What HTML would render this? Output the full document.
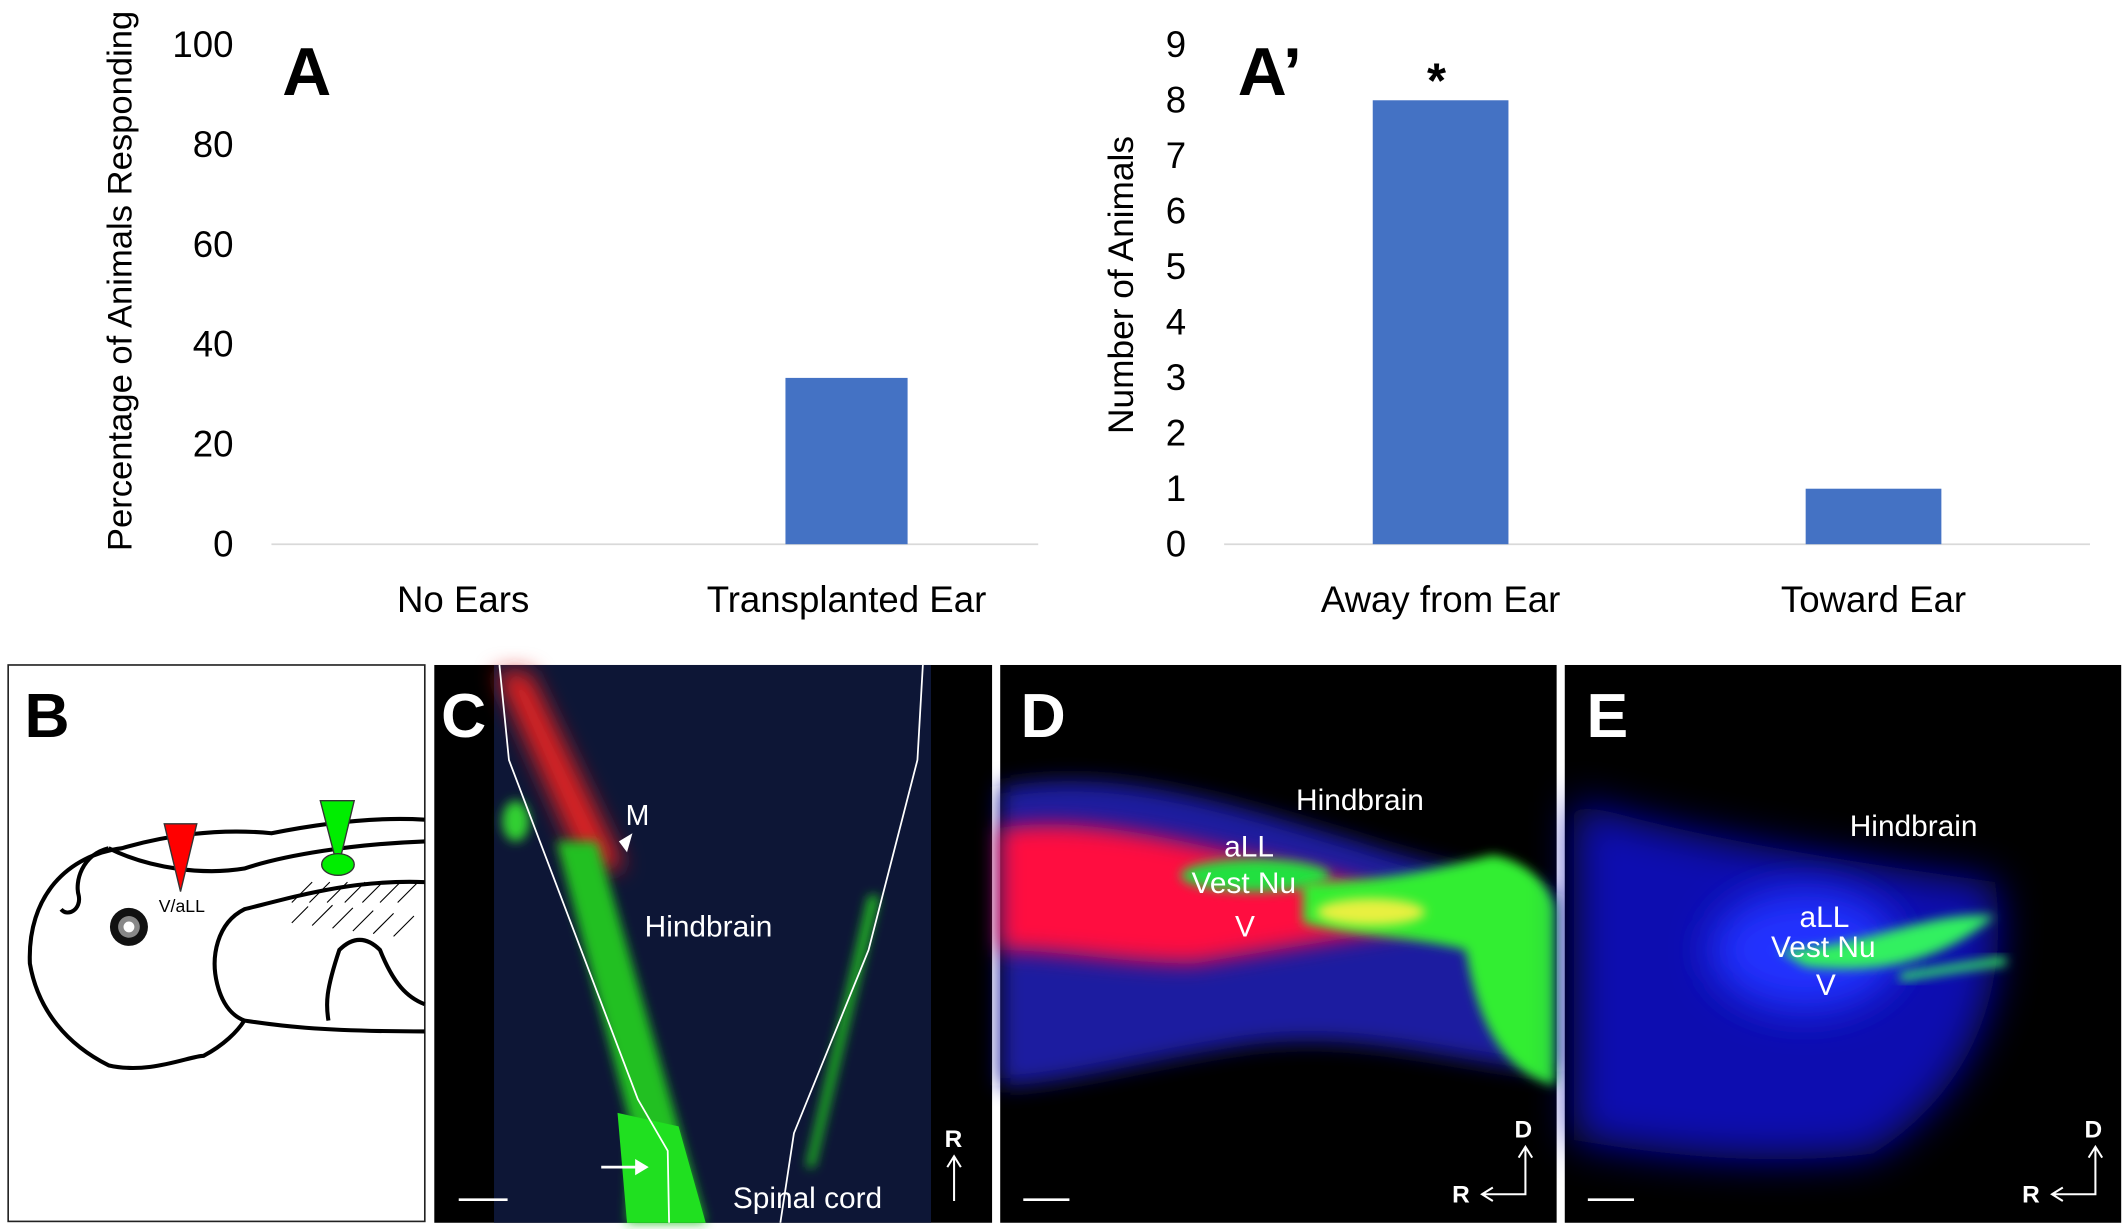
<!DOCTYPE html>
<html><head><meta charset="utf-8"><style>
html,body{margin:0;padding:0;background:#fff}
svg{display:block}
text{font-family:"Liberation Sans",sans-serif}
</style></head><body>
<svg width="2128" height="1229" viewBox="0 0 1568 905.6" xmlns="http://www.w3.org/2000/svg">
<defs>
<filter id="b8" x="-50%" y="-50%" width="200%" height="200%"><feGaussianBlur stdDeviation="8"/></filter>
<filter id="b4" x="-50%" y="-50%" width="200%" height="200%"><feGaussianBlur stdDeviation="4"/></filter>
<filter id="b15" x="-50%" y="-50%" width="200%" height="200%"><feGaussianBlur stdDeviation="15"/></filter>
</defs>
<g id="chartA"></g>
<g id="chartB"></g>

<!-- Panel B -->
<g>
<rect x="6" y="490" width="307" height="410" fill="#fff" stroke="#222" stroke-width="1.2"/>
<text x="18" y="543" font-size="46" font-weight="bold" fill="#000">B</text>
<g fill="none" stroke="#000" stroke-width="3">
<path d="M313,604 C280,602 240,606 200,614 C160,610 120,616 90,625 C50,630 20,660 22,710 C28,745 50,770 80,785 C110,792 140,778 150,778 C165,770 175,760 180,752 C200,755 230,760 313,760"/>
<path d="M313,620 C260,622 210,630 180,640 C150,645 110,640 80,625"/>
<path d="M313,650 C260,648 220,660 180,670 C160,680 155,705 160,725 C165,745 175,750 180,752"/>
<path d="M313,740 C300,735 290,725 280,700 C270,690 260,690 250,700 C240,730 240,740 242,752"/>
<path d="M80,625 C60,630 55,650 58,660 C60,670 50,676 45,670"/>
</g>
<g stroke="#000" stroke-width="0.8">
<path d="M215,665 l15,-15 M228,665 l15,-15 M241,665 l15,-15 M254,665 l15,-15 M267,665 l15,-15 M280,665 l15,-15 M293,665 l15,-15 M215,680 l12,-12 M230,682 l15,-15 M245,684 l15,-15 M260,686 l15,-15 M275,688 l15,-15 M290,690 l15,-15"/>
</g>
<circle cx="95" cy="683" r="14" fill="#111"/><circle cx="95" cy="683" r="8" fill="#888"/><circle cx="95" cy="683" r="4" fill="#fff"/>
<polygon points="121,607 145,607 133,657" fill="#f00" stroke="#333" stroke-width="1"/>
<text x="117" y="672" font-size="13" fill="#000">V/aLL</text>
<polygon points="236,590 261,590 249,640" fill="#0e0" stroke="#333" stroke-width="1"/>
<ellipse cx="249" cy="637" rx="12" ry="8" fill="#0e0" stroke="#333" stroke-width="1"/>
</g>

<!-- Panel C -->
<g>
<rect x="320" y="490" width="411" height="411" fill="#000"/>
<rect x="364" y="490" width="322" height="411" fill="#0d1636"/>
<path d="M365,495 L390,495 L460,640 L430,640 Z" fill="#e02020" filter="url(#b8)"/>
<ellipse cx="380" cy="605" rx="10" ry="15" fill="#30d030" filter="url(#b4)"/>
<path d="M410,620 L440,620 L500,830 L520,901 L462,901 L465,830 Z" fill="#20c020" filter="url(#b4)"/>
<path d="M455,820 L500,830 L520,901 L462,901 Z" fill="#20e020"/>
<path d="M640,660 L648,660 L600,860 L594,860 Z" fill="#20c020" filter="url(#b4)"/>
<path d="M368,490 L375,560 L470,810 L492,848 L493,901 M680,490 L676,560 L640,700 L585,835 L575,901" fill="none" stroke="#fff" stroke-width="1.3"/>
<text x="325" y="543" font-size="46" font-weight="bold" fill="#fff">C</text>
<text x="461" y="608" font-size="21" fill="#fff">M</text>
<polygon points="456,620 466,614 462,628" fill="#fff"/>
<text x="475" y="690" font-size="22" fill="#fff">Hindbrain</text>
<text x="540" y="890" font-size="22" fill="#fff">Spinal cord</text>
<path d="M443,860 L470,860" stroke="#fff" stroke-width="2"/><polygon points="478,860 468,854 468,866" fill="#fff"/>
<text x="696" y="845" font-size="18" font-weight="bold" fill="#fff">R</text>
<path d="M703,885 L703,852 M698,860 L703,852 L708,860" stroke="#fff" stroke-width="1.5" fill="none"/>
<line x1="338" y1="884" x2="374" y2="884" stroke="#fff" stroke-width="2"/>
</g>

<!-- Panel D -->
<g>
<rect x="737" y="490" width="410" height="411" fill="#000"/>
<path d="M737,580 C820,565 900,590 1000,620 C1060,640 1120,650 1146,660 L1146,790 C1060,780 1000,760 920,770 C850,780 780,800 737,800 Z" fill="#1a1aa0" filter="url(#b8)"/>
<path d="M737,610 C800,600 870,620 960,640 C1000,650 1040,660 1060,680 C1000,690 940,700 880,710 C830,710 780,700 737,700 Z" fill="#ff1040" filter="url(#b8)"/>
<ellipse cx="925" cy="645" rx="55" ry="12" fill="#20e040" filter="url(#b4)"/>
<path d="M960,650 C1020,650 1060,640 1100,630 C1130,635 1146,660 1146,670 L1146,800 C1110,790 1090,760 1080,700 C1040,690 1000,690 960,680 Z" fill="#30ee30" filter="url(#b4)"/>
<ellipse cx="1010" cy="672" rx="40" ry="10" fill="#e8f040" filter="url(#b4)"/>
<text x="752" y="543" font-size="46" font-weight="bold" fill="#fff">D</text>
<text x="955" y="597" font-size="22" fill="#fff">Hindbrain</text>
<text x="902" y="631" font-size="22" fill="#fff">aLL</text>
<text x="878" y="658" font-size="22" fill="#fff">Vest Nu</text>
<text x="910" y="690" font-size="22" fill="#fff">V</text>
<text x="1116" y="838" font-size="18" font-weight="bold" fill="#fff">D</text>
<text x="1070" y="886" font-size="18" font-weight="bold" fill="#fff">R</text>
<path d="M1124,845 L1124,880 L1092,880 M1119,853 L1124,845 L1129,853 M1100,875 L1092,880 L1100,885" stroke="#fff" stroke-width="1.5" fill="none"/>
<line x1="754" y1="884" x2="788" y2="884" stroke="#fff" stroke-width="2"/>
</g>

<!-- Panel E -->
<g>
<rect x="1153" y="490" width="410" height="411" fill="#000"/>
<path d="M1160,590 C1250,620 1400,640 1470,650 C1480,720 1460,800 1380,850 C1300,860 1220,850 1160,840 Z" fill="#1010b0" filter="url(#b15)"/>
<ellipse cx="1330" cy="700" rx="70" ry="45" fill="#2030ff" filter="url(#b15)"/>
<path d="M1310,700 C1370,700 1420,670 1470,675 C1440,700 1400,720 1330,712 Z" fill="#30f060" filter="url(#b4)"/>
<path d="M1400,720 C1430,715 1460,710 1478,708" stroke="#30f060" stroke-width="6" fill="none" filter="url(#b4)"/>
<text x="1169" y="543" font-size="46" font-weight="bold" fill="#fff">E</text>
<text x="1363" y="616" font-size="22" fill="#fff">Hindbrain</text>
<text x="1326" y="683" font-size="22" fill="#fff">aLL</text>
<text x="1305" y="705" font-size="22" fill="#fff">Vest Nu</text>
<text x="1338" y="733" font-size="22" fill="#fff">V</text>
<text x="1536" y="838" font-size="18" font-weight="bold" fill="#fff">D</text>
<text x="1490" y="886" font-size="18" font-weight="bold" fill="#fff">R</text>
<path d="M1544,845 L1544,880 L1512,880 M1539,853 L1544,845 L1549,853 M1520,875 L1512,880 L1520,885" stroke="#fff" stroke-width="1.5" fill="none"/>
<line x1="1170" y1="884" x2="1204" y2="884" stroke="#fff" stroke-width="2"/>
</g>
</svg>
<script>
const aCategories = ["No Ears", "Transplanted Ear"];
const aValues = [0, 33.3];
const aTicks = [0, 20, 40, 60, 80, 100];
const bCategories = ["Away from Ear", "Toward Ear"];
const bValues = [8, 1];
const bTicks = [0, 1, 2, 3, 4, 5, 6, 7, 8, 9];
const NS = "http://www.w3.org/2000/svg";
function mk(parent, tag, attrs, txt) {
  const e = document.createElementNS(NS, tag);
  for (const k in attrs) e.setAttribute(k, attrs[k]);
  if (txt !== undefined) e.textContent = txt;
  parent.appendChild(e);
  return e;
}
function drawChart(gid, cats, vals, ticks, cfg) {
  const g = document.getElementById(gid);
  const yMax = ticks[ticks.length - 1];
  const y = v => cfg.y0 - (v / yMax) * (cfg.y0 - cfg.yTop);
  const band = (cfg.x1 - cfg.x0) / cats.length;
  const x = i => cfg.x0 + band * (i + 0.5);
  ticks.forEach(t => {
    const tl = mk(g, "text", {x: cfg.tickX, y: y(t) + 9, "font-size": 27, "text-anchor": "end", fill: "#000"}, String(t));
    
    
  });
  const base = mk(g, "line", {x1: cfg.x0, x2: cfg.x1, y1: cfg.y0, y2: cfg.y0, stroke: "#d9d9d9", "stroke-width": 1.3});
  
  
  cats.forEach((c, i) => {
    const v = vals[i];
    if (v > 0) {
      const r = mk(g, "rect", {x: x(i) - cfg.bw / 2, y: y(v), width: cfg.bw, height: cfg.y0 - y(v), fill: "#4472c4"});
      
      
    }
    const l = mk(g, "text", {x: x(i), y: 451, "font-size": 27, "text-anchor": "middle", fill: "#000"}, c);
    
    
  });
  const t = mk(g, "text", {x: 0, y: 0, "font-size": cfg.titleSize, "text-anchor": "middle", fill: "#000", transform: `translate(${cfg.titleX},${cfg.titleY}) rotate(-90)`}, cfg.title);
  
  
  const p = mk(g, "text", {x: cfg.panelX, y: 70, "font-size": 50, "font-weight": "bold", fill: "#000"}, cfg.panel);
  
  
  return {x, y};
}
drawChart("chartA", aCategories, aValues, aTicks, {x0: 200, x1: 765, y0: 401, yTop: 33, bw: 90, tickX: 172, title: "Percentage of Animals Responding", titleSize: 25.5, titleX: 97, titleY: 207, panel: "A", panelX: 208});
const ax = drawChart("chartB", bCategories, bValues, bTicks, {x0: 902, x1: 1540, y0: 401, yTop: 33, bw: 100, tickX: 874, title: "Number of Animals", titleSize: 26, titleX: 835, titleY: 210, panel: "A\u2019", panelX: 912});
const star = mk(document.getElementById("chartB"), "text", {x: ax.x(0) - 3, y: ax.y(bValues[0]) - 2, "font-size": 36, "font-weight": "bold", "text-anchor": "middle", fill: "#000"}, "*");


</script>
</body></html>
